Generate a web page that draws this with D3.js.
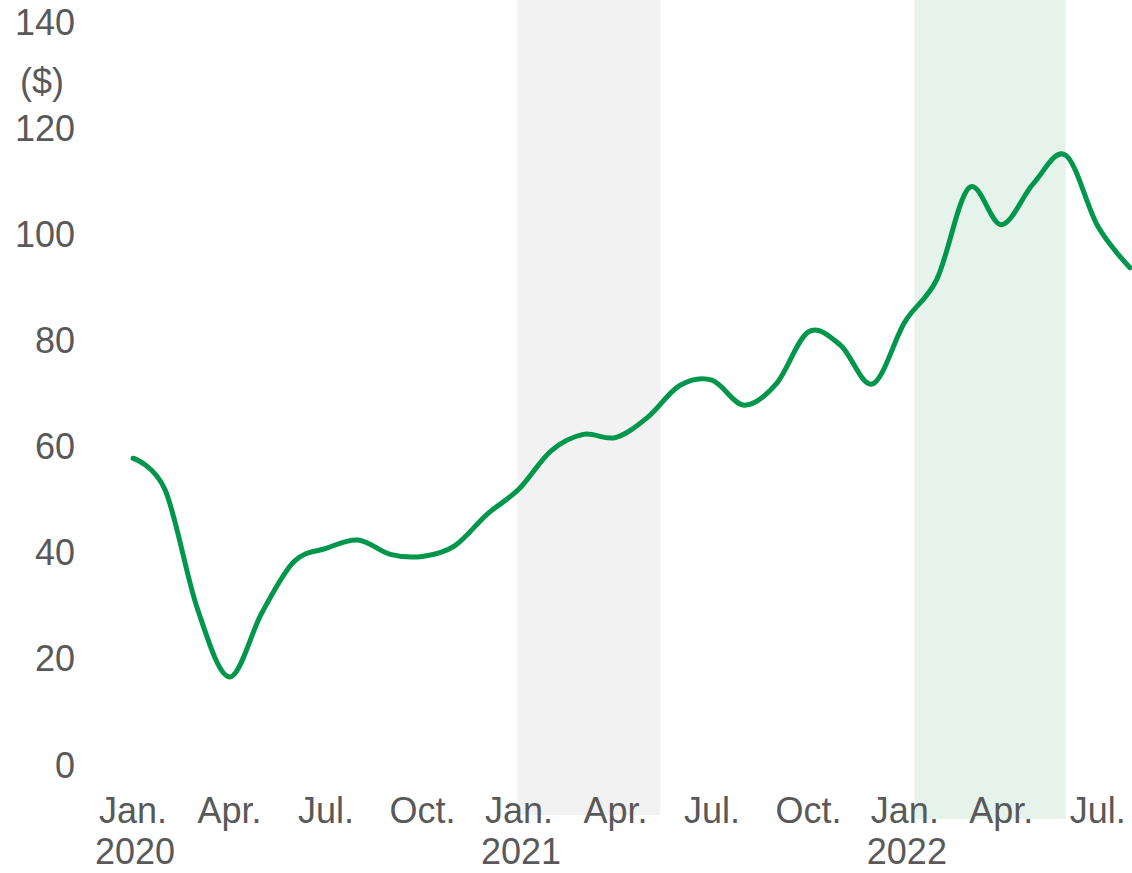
<!DOCTYPE html>
<html>
<head>
<meta charset="utf-8">
<script src="https://cdn.jsdelivr.net/npm/d3@7"></script>
<style>
  body { margin: 0; background: #fff; }
  text { font-family: "Liberation Sans", Arial, sans-serif; fill: #595959; font-size: 36px; }
</style>
</head>
<body>
<svg id="chart" width="1132" height="873"></svg>
<script>
// monthly prices, Jan 2020 .. Aug 2022
const months = ["Jan","Feb","Mar","Apr","May","Jun","Jul","Aug","Sep","Oct","Nov","Dec",
                "Jan","Feb","Mar","Apr","May","Jun","Jul","Aug","Sep","Oct","Nov","Dec",
                "Jan","Feb","Mar","Apr","May","Jun","Jul","Aug"];
const prices = [57.8, 51.8, 29.5, 16.6, 28.6, 38.3, 40.8, 42.4, 39.7, 39.3, 41.3, 47.2,
                52.0, 59.2, 62.3, 61.7, 65.5, 71.5, 72.5, 67.8, 71.8, 81.6, 79.1, 71.8,
                83.5, 91.6, 108.8, 101.8, 109.6, 114.9, 101.5, 93.7];

// tick labels (month index -> label)
const tickIdx = [0, 3, 6, 9, 12, 15, 18, 21, 24, 27, 30];
const tickLabels = ["Jan.", "Apr.", "Jul.", "Oct.", "Jan.", "Apr.", "Jul.", "Oct.", "Jan.", "Apr.", "Jul."];
const yearIdx = [0, 12, 24];
const yearLabels = ["2020", "2021", "2022"];
const yTicks = [0, 20, 40, 60, 80, 100, 120, 140];

// shaded periods in month-index units
const bandStart = [11.95, 24.3];
const bandEnd = [16.4, 29.0];
const bandColor = ["#f2f2f2", "#e5f3eb"];
const bandBottom = [815, 819];

const svg = d3.select("#chart");

const x = d3.scaleLinear().domain([0, prices.length - 1]).range([133, 1130]);
const y = d3.scaleLinear().domain([0, 140]).range([765, 22]);

// bands
svg.selectAll(".band")
    .data(bandStart)
    .enter().append("rect")
    .attr("class", "band")
    .attr("x", (d, i) => x(d))
    .attr("y", 0)
    .attr("width", (d, i) => x(bandEnd[i]) - x(d))
    .attr("height", (d, i) => bandBottom[i])
    .attr("fill", (d, i) => bandColor[i]);

// y labels
svg.append("g")
    .selectAll("text")
    .data(yTicks)
    .enter().append("text")
    .attr("x", 75)
    .attr("y", d => y(d))
    .attr("dy", "0.35em")
    .attr("text-anchor", "end")
    .text(d => d);

svg.append("text")
    .attr("x", 42)
    .attr("y", 81)
    .attr("dy", "0.35em")
    .attr("text-anchor", "middle")
    .text("($)");

// x labels
svg.append("g")
    .selectAll("text")
    .data(tickIdx)
    .enter().append("text")
    .attr("x", d => x(d))
    .attr("y", 823)
    .attr("text-anchor", "middle")
    .text((d, i) => tickLabels[i]);

svg.append("g")
    .selectAll("text")
    .data(yearIdx)
    .enter().append("text")
    .attr("x", d => x(d) + 2)
    .attr("y", 864)
    .attr("text-anchor", "middle")
    .text((d, i) => yearLabels[i]);

// price line
const line = d3.line()
    .x((d, i) => x(i))
    .y(d => y(d))
    .curve(d3.curveCatmullRom.alpha(0));

svg.append("path")
    .datum(prices)
    .attr("d", line)
    .attr("fill", "none")
    .attr("stroke", "#00964b")
    .attr("stroke-width", 5)
    .attr("stroke-linecap", "round")
    .attr("stroke-linejoin", "round");
</script>
</body>
</html>
